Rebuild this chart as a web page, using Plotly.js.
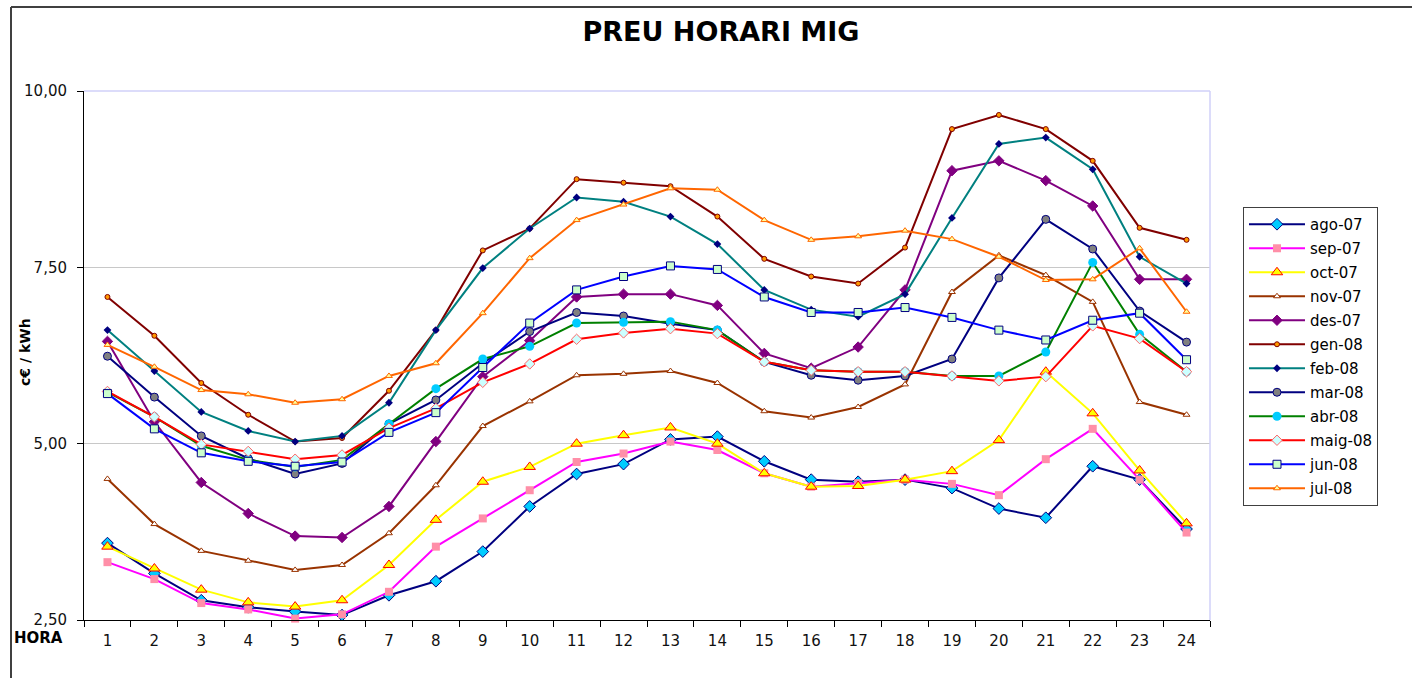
<!DOCTYPE html>
<html>
<head>
<meta charset="utf-8">
<script src="https://cdn.plot.ly/plotly-3.0.1.min.js"></script>
<style>
html,body{margin:0;padding:0;background:#fff;}
#chart{width:1412px;height:678px;}
</style>
</head>
<body>
<div id="chart"></div>
<script>
const hours = ["1","2","3","4","5","6","7","8","9","10","11","12","13","14","15","16","17","18","19","20","21","22","23","24"];
const seriesNames = ["ago-07","sep-07","oct-07","nov-07","des-07","gen-08","feb-08","mar-08","abr-08","maig-08","jun-08","jul-08"];
const ago07 = [3.59,3.16,2.78,2.68,2.62,2.57,2.85,3.05,3.47,4.11,4.57,4.71,5.06,5.10,4.75,4.49,4.46,4.49,4.37,4.08,3.95,4.68,4.49,3.79];
const sep07 = [3.32,3.08,2.74,2.65,2.52,2.58,2.90,3.54,3.94,4.34,4.74,4.86,5.03,4.91,4.58,4.39,4.44,4.49,4.43,4.27,4.78,5.21,4.49,3.74];
const oct07 = [3.54,3.23,2.93,2.75,2.69,2.78,3.28,3.92,4.46,4.67,5.00,5.12,5.23,5.00,4.58,4.39,4.40,4.49,4.61,5.05,6.02,5.43,4.62,3.87];
const nov07 = [4.50,3.86,3.48,3.34,3.21,3.28,3.73,4.41,5.25,5.60,5.97,5.99,6.03,5.86,5.46,5.37,5.52,5.84,7.15,7.67,7.39,7.01,5.59,5.41];
const des07 = [6.45,5.31,4.45,4.01,3.69,3.67,4.11,5.03,5.95,6.46,7.08,7.12,7.12,6.96,6.28,6.07,6.37,7.18,8.87,9.01,8.73,8.37,7.33,7.33];
const gen08 = [7.08,6.53,5.86,5.41,5.03,5.08,5.75,6.61,7.74,8.05,8.75,8.70,8.65,8.22,7.62,7.37,7.27,7.78,9.46,9.66,9.46,9.01,8.06,7.89];
const feb08 = [6.61,6.03,5.45,5.18,5.03,5.11,5.58,6.61,7.49,8.05,8.49,8.43,8.22,7.83,7.18,6.90,6.80,7.12,8.20,9.25,9.34,8.89,7.65,7.27];
const mar08 = [6.24,5.66,5.11,4.79,4.57,4.72,5.28,5.62,6.14,6.59,6.86,6.81,6.70,6.61,6.16,5.97,5.90,5.96,6.20,7.35,8.18,7.76,6.88,6.44];
const abr08 = [5.73,5.38,4.97,4.77,4.67,4.77,5.28,5.78,6.20,6.38,6.71,6.72,6.73,6.61,6.16,6.04,6.02,6.02,5.96,5.96,6.30,7.57,6.55,6.02];
const maig08 = [5.74,5.38,4.99,4.89,4.78,4.84,5.22,5.50,5.87,6.13,6.48,6.57,6.63,6.56,6.16,6.04,6.02,6.02,5.96,5.89,5.95,6.67,6.49,6.02];
const jun08 = [5.71,5.21,4.87,4.75,4.68,4.74,5.16,5.44,6.08,6.71,7.18,7.37,7.52,7.47,7.08,6.86,6.86,6.93,6.79,6.61,6.47,6.75,6.85,6.19];
const jul08 = [6.40,6.09,5.76,5.70,5.58,5.63,5.96,6.14,6.85,7.63,8.17,8.39,8.62,8.60,8.17,7.89,7.94,8.02,7.90,7.65,7.32,7.33,7.77,6.87];
const yTicks = [2.5, 5, 7.5, 10];

const values = [ago07, sep07, oct07, nov07, des07, gen08, feb08, mar08, abr08, maig08, jun08, jul08];
const styles = [
  {line:"#000080", sym:"diamond", size:9, fill:"#00CCFF", edge:"#000080", ew:1},
  {line:"#FF00FF", sym:"square", size:8, fill:"#FF8FA8", edge:"#FF8FA8", ew:0},
  {line:"#FFFF00", sym:"triangle-up", size:10, fill:"#FFFF00", edge:"#FF0000", ew:1},
  {line:"#993300", sym:"triangle-up", size:6, fill:"#FFFFFF", edge:"#993300", ew:1},
  {line:"#800080", sym:"diamond", size:8, fill:"#800080", edge:"#800080", ew:1},
  {line:"#800000", sym:"circle", size:5, fill:"#FF9900", edge:"#800000", ew:1},
  {line:"#008080", sym:"diamond", size:6, fill:"#000080", edge:"#000080", ew:0},
  {line:"#000080", sym:"circle", size:8, fill:"#808080", edge:"#000080", ew:1},
  {line:"#008000", sym:"circle", size:9, fill:"#00CCFF", edge:"#00CCFF", ew:0},
  {line:"#FF0000", sym:"diamond", size:8, fill:"#CCFFFF", edge:"#FF6666", ew:1},
  {line:"#0000FF", sym:"square", size:8, fill:"#CCFFCC", edge:"#000080", ew:1},
  {line:"#FF6600", sym:"triangle-up", size:6, fill:"#FFFF99", edge:"#FF6600", ew:1}
];

const traces = seriesNames.map((n, i) => ({
  type: "scatter",
  mode: "lines+markers",
  name: n,
  legendgroup: n,
  x: hours,
  y: values[i],
  line: {color: styles[i].line, width: 2},
  marker: {symbol: styles[i].sym, size: styles[i].size, color: styles[i].fill,
           line: {color: styles[i].edge, width: styles[i].ew}},
  cliponaxis: false
}));

const font = "'DejaVu Sans', sans-serif";
const layout = {
  width: 1412, height: 678,
  margin: {l: 84, r: 202, t: 91, b: 58, pad: 0},
  paper_bgcolor: "#ffffff",
  plot_bgcolor: "#ffffff",
  separators: ",.",
  font: {family: font, size: 15, color: "#000"},
  showlegend: true,
  title: {text: "<b>PREU HORARI MIG</b>", font: {family: font, size: 27, color: "#000"},
          x: 0.5657, xref: "paper", xanchor: "center", y: 1 - 32/678, yref: "container", yanchor: "middle"},
  xaxis: {
    type: "category",
    range: [-0.5, 23.5],
    tickson: "boundaries",
    ticks: "outside", ticklen: 6, tickcolor: "#000", tickwidth: 1,
    ticklabelstandoff: 7,
    showline: true, linecolor: "#000", linewidth: 1,
    showgrid: false, zeroline: false,
    tickfont: {family: font, size: 15, color: "#111"},
    fixedrange: true
  },
  yaxis: {
    range: [2.5, 10],
    tickvals: yTicks,
    tickformat: ".2f",
    ticks: "outside", ticklen: 6, tickcolor: "#000", tickwidth: 1,
    ticklabelstandoff: 7,
    showline: true, linecolor: "#000", linewidth: 1,
    showgrid: true, gridcolor: "#C8C8C8", gridwidth: 1,
    zeroline: false,
    tickfont: {family: font, size: 15, color: "#111"},
    fixedrange: true
  },
  legend: {
    x: 1.0293, xanchor: "left", y: 0.7807, yanchor: "top",
    bordercolor: "#404040", borderwidth: 1,
    bgcolor: "#ffffff",
    font: {family: font, size: 15, color: "#000"},
    traceorder: "grouped",
    tracegroupgap: 1.5,
    itemwidth: 56
  },
  shapes: [
    {type: "line", xref: "paper", yref: "paper", x0: 0, x1: 1, y0: 1, y1: 1, line: {color: "#D0D0F8", width: 1.5}, layer: "above"},
    {type: "line", xref: "paper", yref: "paper", x0: 1, x1: 1, y0: 0, y1: 1, line: {color: "#D0D0F8", width: 1.5}, layer: "above"},
    {type: "line", xref: "paper", yref: "paper", x0: (11-84)/1126, x1: (1412-84)/1126, y0: (620-7)/529, y1: (620-7)/529, line: {color: "#404040", width: 2}},
    {type: "line", xref: "paper", yref: "paper", x0: (11-84)/1126, x1: (11-84)/1126, y0: (620-7)/529, y1: (620-680)/529, line: {color: "#404040", width: 2}}
  ],
  annotations: [
    {text: "<b>HORA</b>", xref: "paper", yref: "paper", x: (38-84)/1126, y: (620-638)/529,
     xanchor: "center", yanchor: "middle", showarrow: false, font: {family: font, size: 15, color: "#000"}},
    {text: "<b>c€ / kWh</b>", xref: "paper", yref: "paper", x: (25-84)/1126, y: (620-352)/529,
     xanchor: "center", yanchor: "middle", textangle: -90, showarrow: false, font: {family: font, size: 14, color: "#000"}}
  ]
};

Plotly.newPlot("chart", traces, layout, {displayModeBar: false, staticPlot: true});
</script>
</body>
</html>
